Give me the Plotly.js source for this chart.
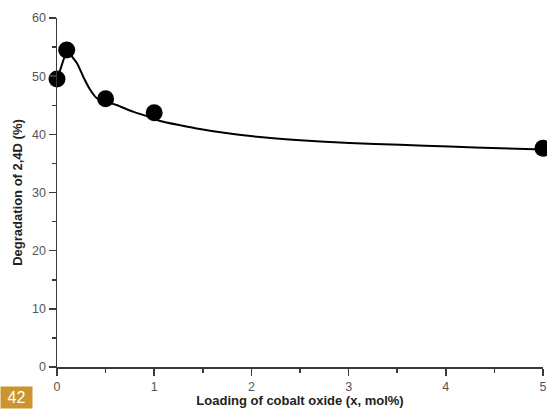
<!DOCTYPE html>
<html>
<head>
<meta charset="utf-8">
<script src="https://cdn.plot.ly/plotly-3.0.1.min.js"></script>
<style>
  html, body { margin: 0; padding: 0; background: #fff; }
  #chart { width: 547px; height: 409px; }
</style>
</head>
<body>
<div id="chart"></div>
<script>
// Measured points
const loading = [0, 0.1, 0.5, 1, 5];
const degradation = [49.5, 54.5, 46.1, 43.7, 37.6];

// Fitted curve
const curveX = [0, 0.1, 0.21, 0.27, 0.34, 0.41, 0.5, 0.62, 0.78, 0.93, 1.06, 1.47, 1.99, 2.5, 3.01, 3.53, 4.04, 4.56, 5.0];
const curveY = [49.4, 54.5, 52.1, 49.9, 47.7, 46.2, 45.7, 45.0, 43.9, 43.1, 42.3, 40.9, 39.7, 39.0, 38.5, 38.2, 37.9, 37.6, 37.4];

const xTickVals = [0, 1, 2, 3, 4, 5];
const yTickVals = [0, 10, 20, 30, 40, 50, 60];

const FONT = 'Liberation Sans, Arial, sans-serif';

const traces = [
  {
    x: curveX.slice(0, 2), y: curveY.slice(0, 2), type: 'scatter', mode: 'lines',
    line: { color: '#000', width: 2 }, hoverinfo: 'skip', cliponaxis: false
  },
  {
    x: curveX.slice(1), y: curveY.slice(1), type: 'scatter', mode: 'lines',
    line: { color: '#000', width: 2, shape: 'spline', smoothing: 0.45 },
    hoverinfo: 'skip', cliponaxis: false
  },
  {
    x: loading, y: degradation, type: 'scatter', mode: 'markers',
    marker: { color: '#000', size: 17 },
    cliponaxis: false
  }
];

const axisCommon = {
  showgrid: false, zeroline: false, showline: true,
  linecolor: '#3a3a3a', linewidth: 1.5,
  ticks: 'outside', ticklen: 7, tickwidth: 1.5, tickcolor: '#3a3a3a',
  tickfont: { family: FONT, size: 12.5, color: '#555' },
  fixedrange: true
};

const layout = {
  width: 547, height: 409,
  margin: { l: 57, r: 4, t: 18, b: 42 },
  paper_bgcolor: '#fff', plot_bgcolor: '#fff',
  showlegend: false,
  xaxis: Object.assign({}, axisCommon, {
    range: [0, 5], tickvals: xTickVals,
    minor: { dtick: 0.5, ticklen: 4, tickwidth: 1.5, tickcolor: '#3a3a3a', ticks: 'outside', showgrid: false },
    title: { text: 'Loading of cobalt oxide (x, mol%)', standoff: 2,
      font: { family: FONT, size: 13, color: '#222', weight: 'bold' } }
  }),
  yaxis: Object.assign({}, axisCommon, {
    range: [0, 60], tickvals: yTickVals,
    minor: { dtick: 5, ticklen: 4, tickwidth: 1.5, tickcolor: '#3a3a3a', ticks: 'outside', showgrid: false },
    title: { text: 'Degradation of 2,4D (%)', standoff: 6,
      font: { family: FONT, size: 13, color: '#222', weight: 'bold' } }
  }),
  annotations: [{
    text: '42', xref: 'paper', yref: 'paper',
    x: -57/486, y: -42/349, xanchor: 'left', yanchor: 'bottom',
    showarrow: false, bgcolor: '#c9952c',
    font: { family: FONT, size: 16, color: '#fff' },
    borderpad: 2, width: 27, height: 17
  }]
};

Plotly.newPlot('chart', traces, layout, { displayModeBar: false, staticPlot: true });
</script>
</body>
</html>
